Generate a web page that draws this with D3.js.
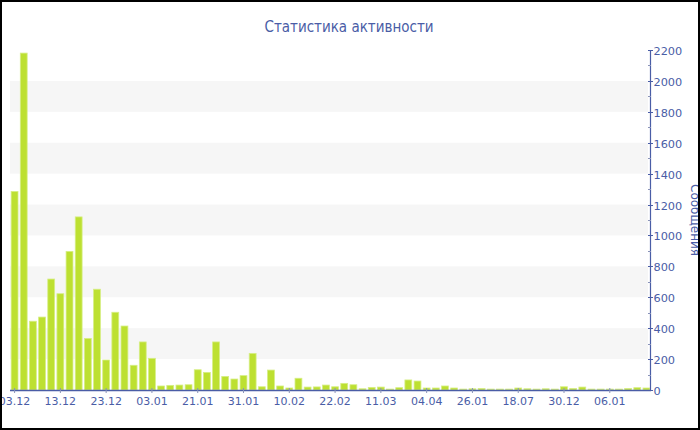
<!DOCTYPE html>
<html><head><meta charset="utf-8">
<script src="https://cdn.jsdelivr.net/npm/d3@7"></script>
<style>html,body{margin:0;padding:0;background:#fff}svg{display:block}</style>
</head><body>
<svg id="c" width="700" height="430"></svg>
<script>
const title = "Статистика активности";
const yTitle = "Сообщения";
const values = [1285,2180,445,472,718,623,897,1120,334,652,194,503,414,160,311,205,26,30,32,34,
131,114,311,88,71,93,237,21,129,26,13,76,19,20,32,21,43,34,8,17,
19,6,15,65,58,13,13,26,13,6,8,10,6,6,6,13,8,6,8,6,
21,10,19,6,6,6,6,10,15,13];
const tickLabels = ["03.12","13.12","23.12","03.01","21.01","31.01","10.02","22.02","11.03","04.04","26.01","18.07","30.12","06.01"];
const yTicks = [0,200,400,600,800,1000,1200,1400,1600,1800,2000,2200];
const stripes = [[200,400],[600,800],[1000,1200],[1400,1600],[1800,2000]];

const blue = "#4a5da6";
const font = "DejaVu Sans, Verdana, sans-serif";
const svg = d3.select("#c");
const L = 10, R = 651, T = 50, B = 390;
const cats = values.map((v,i)=>i);
const x = d3.scaleBand().domain(cats).range([L,R]).paddingInner(0.25).paddingOuter(0.125);
const y = d3.scaleLinear().domain([0,2200]).range([B,T]);

svg.append("g").selectAll("rect").data(stripes).join("rect")
  .attr("x",L).attr("width",R-3-L)
  .attr("y",d=>y(d[1])).attr("height",d=>y(d[0])-y(d[1]))
  .attr("fill","#f6f6f6");

svg.append("g").selectAll("rect").data(values).join("rect")
  .attr("x",(d,i)=>x(i)).attr("width",x.bandwidth())
  .attr("y",d=>y(d)).attr("height",d=>B-y(d))
  .attr("fill","#bde031").attr("stroke","#d6ee85").attr("stroke-width",0.8);

// x axis
const xa = svg.append("g");
xa.append("line").attr("x1",L).attr("x2",R).attr("y1",B+0.5).attr("y2",B+0.5).attr("stroke",blue).attr("stroke-width",1.5);
tickLabels.forEach((t,k)=>{
  const i = k*5;
  const cx = x(i)+x.bandwidth()/2;
  xa.append("line").attr("x1",cx).attr("x2",cx).attr("y1",B-2).attr("y2",B+3).attr("stroke","#8a93b8").attr("stroke-width",1);
  xa.append("text").attr("x",cx).attr("y",405).attr("text-anchor","middle")
    .attr("font-family",font).attr("font-size","11px").attr("fill",blue).text(t);
});

// y axis (right)
const ya = svg.append("g");
ya.append("line").attr("x1",R-0.5).attr("x2",R-0.5).attr("y1",T).attr("y2",B+1).attr("stroke",blue).attr("stroke-width",1.2);
d3.range(100,2200,200).forEach(v=>{
  ya.append("line").attr("x1",R-3).attr("x2",R).attr("y1",Math.round(y(v))+0.5).attr("y2",Math.round(y(v))+0.5).attr("stroke","#8a93b8");
});
yTicks.forEach(v=>{
  const yy = Math.round(y(v))+0.5;
  ya.append("line").attr("x1",R-3).attr("x2",R+2).attr("y1",yy).attr("y2",yy).attr("stroke",blue);
  ya.append("text").attr("x",R+2.5).attr("y",yy).attr("dy","0.36em")
    .attr("font-family",font).attr("font-size","11.3px").attr("fill",blue).text(v);
});
svg.append("text").attr("transform",`translate(690.5,${(T+B)/2}) rotate(90)`)
  .attr("text-anchor","middle").attr("font-family",font).attr("font-size","12px").attr("fill",blue).text(yTitle);

svg.append("text").attr("x",349).attr("y",31.5).attr("text-anchor","middle")
  .attr("font-family","DejaVu Sans Condensed, DejaVu Sans, sans-serif").attr("font-stretch","condensed")
  .attr("font-size","15px").attr("fill",blue).text(title);

svg.append("rect").attr("x",1).attr("y",1).attr("width",698).attr("height",428)
  .attr("fill","none").attr("stroke","#000").attr("stroke-width",2);
</script>
</body></html>
